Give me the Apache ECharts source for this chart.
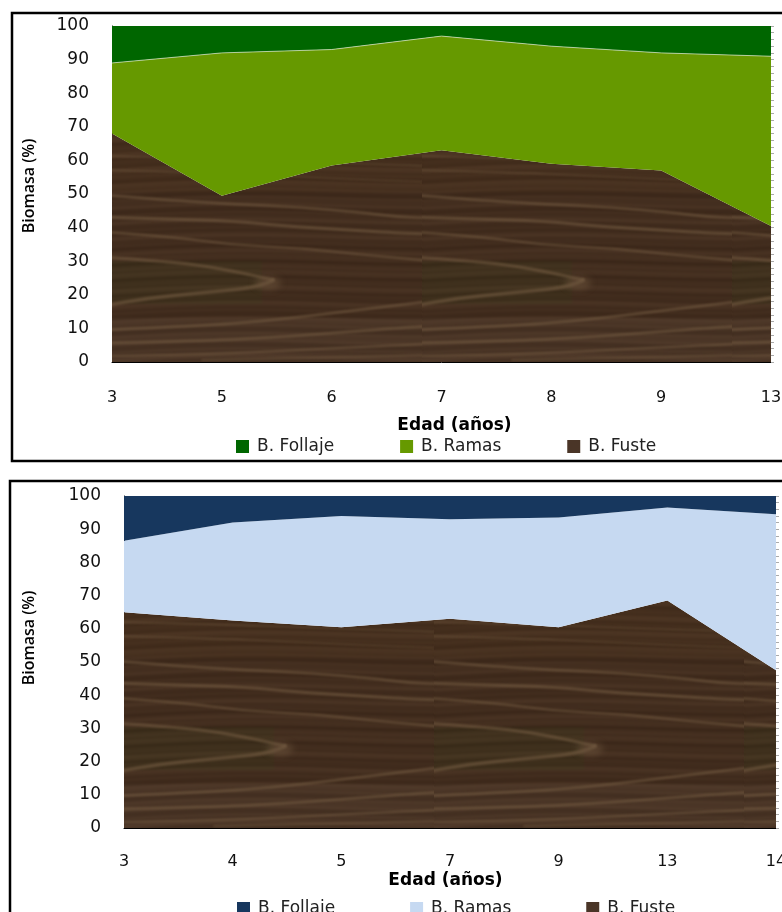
<!DOCTYPE html>
<html>
<head>
<meta charset="utf-8">
<style>html,body{margin:0;padding:0;background:#fff;overflow:hidden}#chart{width:782px;height:912px}</style>
<script src="https://cdn.jsdelivr.net/npm/echarts@6/dist/echarts.min.js"></script>
</head>
<body>
<div id="chart"></div>
<script>
// Biomass share by tree compartment and age, two stands
const edadesA = ['3', '5', '6', '7', '8', '9', '13'];
const fusteA = [68, 49.5, 58.5, 63, 59, 57, 40.5];
const ramasA = [21, 42.5, 34.5, 34, 35, 35, 50.5];
const follajeA = [11, 8, 7, 3, 6, 8, 9];

const edadesB = ['3', '4', '5', '7', '9', '13', '14'];
const fusteB = [65, 62.5, 60.5, 63, 60.5, 68.5, 47.5];
const ramasB = [21.5, 29.5, 33.5, 30, 33, 28, 47];
const follajeB = [13.5, 8, 6, 7, 6.5, 3.5, 5.5];

const nombres = ['B. Follaje', 'B. Ramas', 'B. Fuste'];

const plotA = { left: 112, top: 26, right: 771, bottom: 362 };
const plotB = { left: 124, top: 496, right: 776, bottom: 828 };

const TILE_W = 310, TILE_H = 345;

// Grain lines of the wood fill: [width, [u, v], ...] with v measured up from the tile bottom
const vetas = [
  [2.6, [-10,167],[54,162],[120,158],[187,155],[254,149],[287,145],[320,144]],
  [3.0, [-10,145],[54,143],[120,141],[174,136],[220,133],[287,129],[320,128]],
  [2.2, [-10,130],[54,126],[120,117],[187,114],[254,107],[320,101]],
  [3.0, [-10,105],[37,102],[87,97],[131,89],[161,82]],
  [3.6, [161,82],[150,75],[87,69],[37,64],[-10,56]],
  [2.6, [-10,32],[87,36],[154,41],[221,49],[271,55],[320,61]],
  [2.6, [-10,19],[87,21],[154,24],[221,29],[287,34],[320,36]],
  [1.8, [-10,6],[87,7],[187,12],[287,17],[320,18]],
  [1.6, [90,2],[200,4],[320,7]],
  [1.2, [-10,192],[80,190],[170,186],[260,182],[320,180]],
  [1.2, [-10,206],[90,204],[190,200],[320,196]]
];

function buildTile() {
  const raw = document.createElement('canvas');
  raw.width = TILE_W; raw.height = TILE_H;
  const r0 = raw.getContext('2d');
  const img = r0.createImageData(TILE_W, TILE_H);
  for (let y = 0; y < TILE_H; y++) {
    const v = TILE_H - y;
    for (let x = 0; x < TILE_W; x++) {
      // bands of fine grain that drift slowly sideways
      const r = y + 3 * Math.sin(x / 70) + x * 0.012;
      const s = 4 * Math.sin(r * 0.83) + 4 * Math.sin(r * 0.37 + 1) + 2.5 * Math.sin(r * 1.61 + 2)
        + 1.5 * Math.sin(r * 2.3 + x / 40);
      let R = 66, G = 45, B = 30;
      if (v < 45) { R += 7; G += 7; B += 7; }
      if (v > 170) { R += 3; G += 2; }
      if (x < 150 && v > 58 && v < 102) { R -= 3; G += 3; B -= 1; }
      const i = (y * TILE_W + x) * 4;
      img.data[i] = R + s; img.data[i + 1] = G + s * 0.85; img.data[i + 2] = B + s * 0.7; img.data[i + 3] = 255;
    }
  }
  r0.putImageData(img, 0, 0);

  const c = document.createElement('canvas');
  c.width = TILE_W; c.height = TILE_H;
  const g = c.getContext('2d');
  // opaque copy first so the softened copy has no see-through edges
  g.drawImage(raw, 0, 0);
  g.filter = 'blur(0.8px)';
  g.drawImage(raw, 0, 0);
  g.filter = 'blur(1px)';
  g.lineCap = 'round';
  g.strokeStyle = 'rgba(116,92,66,0.62)';
  vetas.forEach(function (v) {
    const pts = v.slice(1).map(function (p) { return [p[0], TILE_H - p[1]]; });
    g.lineWidth = v[0];
    g.beginPath();
    g.moveTo(pts[0][0], pts[0][1]);
    for (let i = 1; i < pts.length - 1; i++) {
      g.quadraticCurveTo(pts[i][0], pts[i][1], (pts[i][0] + pts[i + 1][0]) / 2, (pts[i][1] + pts[i + 1][1]) / 2);
    }
    const e = pts[pts.length - 1];
    g.lineTo(e[0], e[1]);
    g.stroke();
  });
  // soft knot where the eye-shaped grain closes
  g.filter = 'blur(3px)';
  g.fillStyle = 'rgba(110,86,62,0.5)';
  g.beginPath();
  g.ellipse(156, TILE_H - 79, 13, 7, 0, 0, Math.PI * 2);
  g.fill();
  g.filter = 'none';
  return c;
}

// Wood fill laid out in page coordinates, anchored on each plot's lower-left corner
function buildWood() {
  const c = document.createElement('canvas');
  c.width = 782; c.height = 912;
  const g = c.getContext('2d');
  const tile = buildTile();
  [plotA, plotB].forEach(function (p) {
    g.save();
    g.beginPath();
    g.rect(p.left, p.top, p.right - p.left, p.bottom - p.top);
    g.clip();
    for (let x = p.left; x < p.right; x += TILE_W) {
      g.drawImage(tile, x, p.bottom - TILE_H);
    }
    g.restore();
  });
  return c;
}

const wood = buildWood();
const FONT = 'DejaVu Sans';

function makeGrid(p) {
  return { left: p.left, top: p.top, width: p.right - p.left, height: p.bottom - p.top, containLabel: false, outerBoundsMode: 'none' };
}

function makeX(idx, cats, gap, pad, labelMargin) {
  return {
    type: 'category', gridIndex: idx, data: cats, boundaryGap: false,
    axisLine: { show: true, lineStyle: { color: '#000', width: 1 } },
    axisTick: { show: false },
    axisLabel: { interval: 0, margin: labelMargin, color: '#111', fontFamily: FONT, fontSize: 16, showMaxLabel: true, hideOverlap: false },
    name: 'Edad (años)', nameLocation: 'middle', nameGap: gap,
    nameTextStyle: { color: '#000', fontFamily: FONT, fontWeight: 'bold', fontSize: 17, padding: pad }
  };
}

function makeY(idx, pad, gap) {
  return {
    type: 'value', gridIndex: idx, min: 0, max: 100, interval: 10,
    axisLine: { show: true, lineStyle: { color: '#000', width: 1 } },
    axisTick: { show: false }, splitLine: { show: false },
    axisLabel: { margin: 23, color: '#111', fontFamily: FONT, fontSize: 17 },
    name: 'Biomasa (%)', nameLocation: 'middle', nameRotate: 90, nameGap: gap,
    nameTextStyle: { color: '#000', fontFamily: 'Open Sans', fontWeight: 600, fontSize: 16, padding: pad }
  };
}

// Faint tick marks along the right edge of each plot
function makeRightTicks(idx) {
  return {
    type: 'value', gridIndex: idx, position: 'right', min: 0, max: 100, interval: 2,
    axisLine: { show: false }, axisLabel: { show: false }, splitLine: { show: false },
    axisTick: { show: true, length: 3, lineStyle: { color: '#aaa', width: 1 } }
  };
}

function makeArea(name, data, stack, axisIdx, fill, swatch, line) {
  return {
    name: name, type: 'line', stack: stack, xAxisIndex: axisIdx, yAxisIndex: axisIdx * 2,
    data: data, symbol: 'none', smooth: false, animation: false, silent: true,
    lineStyle: line || { width: 0 },
    itemStyle: { color: swatch },
    areaStyle: { color: fill, opacity: 1 }
  };
}

function makeLegend(left, top, gap, colors) {
  return {
    left: left, top: top, padding: 0, orient: 'horizontal', itemWidth: 13, itemHeight: 13, itemGap: gap,
    selectedMode: false, icon: 'rect',
    textStyle: { color: '#222', fontFamily: FONT, fontSize: 17, padding: [0, 0, 0, 3] },
    data: nombres.map(function (n, i) {
      return { name: n, icon: 'rect', itemStyle: { color: colors[i], opacity: 1 } };
    })
  };
}

const woodFill = { image: wood, repeat: 'no-repeat' };
const coloresA = ['#006600', '#669900', '#4a3527'];
const coloresB = ['#17375e', '#c6d9f1', '#4a3527'];

const chart = echarts.init(document.getElementById('chart'), null, { renderer: 'canvas' });
chart.setOption({
  animation: false,
  backgroundColor: '#fff',
  graphic: [
    { type: 'rect', z: -1, shape: { x: 12, y: 13, width: 800, height: 448 }, style: { fill: 'none', stroke: '#000', lineWidth: 2.5 } },
    { type: 'rect', z: -1, shape: { x: 10, y: 481, width: 800, height: 460 }, style: { fill: 'none', stroke: '#000', lineWidth: 2.5 } }
  ],
  grid: [makeGrid(plotA), makeGrid(plotB)],
  xAxis: [makeX(0, edadesA, 55, [0, 0, 0, 26], 28), makeX(1, edadesB, 44, [0, 9, 0, 0], 26)],
  yAxis: [
    makeY(0, [0, 0, 0, 16], 75), makeRightTicks(0),
    makeY(1, [0, 0, 0, 48], 87), makeRightTicks(1)
  ],
  legend: [makeLegend(236, 438, 66, coloresA), makeLegend(237, 900, 75, coloresB)],
  series: [
    makeArea(nombres[2], fusteA, 'a', 0, woodFill, coloresA[2]),
    makeArea(nombres[1], ramasA, 'a', 0, coloresA[1], coloresA[1], { width: 0.7, color: '#dfe8c8' }),
    makeArea(nombres[0], follajeA, 'a', 0, coloresA[0], coloresA[0]),
    makeArea(nombres[2], fusteB, 'b', 1, woodFill, coloresB[2]),
    makeArea(nombres[1], ramasB, 'b', 1, coloresB[1], coloresB[1]),
    makeArea(nombres[0], follajeB, 'b', 1, coloresB[0], coloresB[0])
  ]
});
</script>
</body>
</html>
